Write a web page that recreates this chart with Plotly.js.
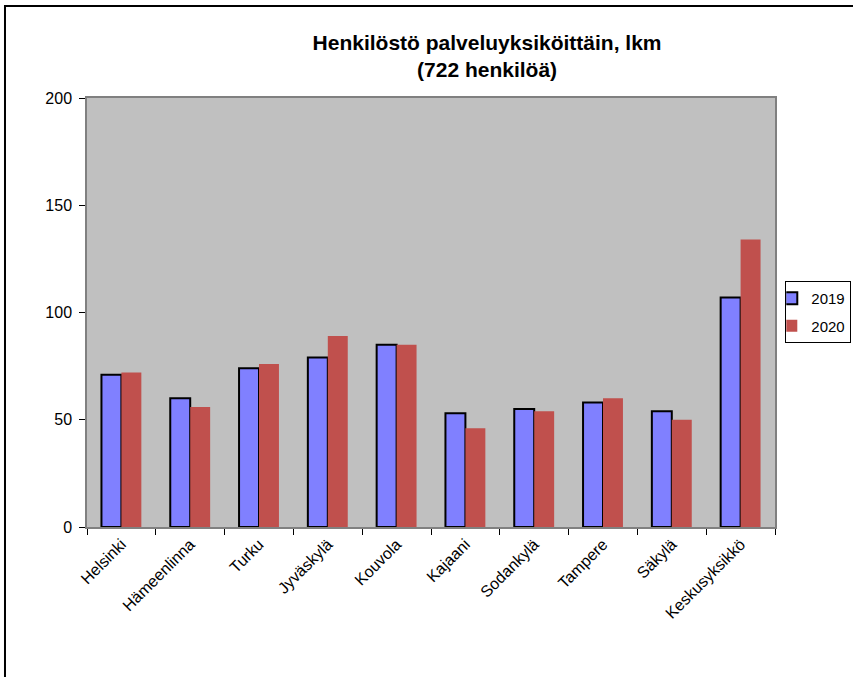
<!DOCTYPE html>
<html><head><meta charset="utf-8">
<script src="https://cdn.plot.ly/plotly-3.0.1.min.js"></script>
<style>body{margin:0;background:#fff}#c{width:853px;height:677px}</style>
</head><body><div id="c"></div>
<script>
const categories = ["Helsinki","Hämeenlinna","Turku","Jyväskylä","Kouvola","Kajaani","Sodankylä","Tampere","Säkylä","Keskusyksikkö"];
const values2019 = [71,60,74,79,85,53,55,58,54,107];
const values2020 = [72,56,76,89,85,46,54,60,50,134];
const yTicks = [0,50,100,150,200];

const traces = [
  {type:"bar", name:"2019", legendgroup:"a", x:categories, y:values2019,
   marker:{color:"#8080FF", line:{color:"#000", width:2}}},
  {type:"bar", name:"2020", legendgroup:"b", x:categories, y:values2020,
   marker:{color:"#C0504D", line:{width:0}}}
];
const layout = {
  width:853, height:677,
  margin:{l:87, r:78, t:98, b:150, autoexpand:false},
  paper_bgcolor:"#fff", plot_bgcolor:"#C0C0C0",
  font:{family:"Liberation Sans, Arial, sans-serif", color:"#000"},
  title:{text:"<b>Henkilöstö palveluyksiköittäin, lkm<br>(722 henkilöä)</b>",
         font:{size:21}, x:0.571, xanchor:"center", y:0.926, yanchor:"top"},
  barmode:"group", bargap:0.42, bargroupgap:0,
  showlegend:true,
  legend:{xref:"container", yref:"container", x:0.998, xanchor:"right", y:0.585, yanchor:"top",
          bordercolor:"#000", borderwidth:1, bgcolor:"#fff", indentation:-15,
          font:{size:15}, itemwidth:30, tracegroupgap:5},
  xaxis:{type:"category", showline:true, linecolor:"#808080", linewidth:1.5, mirror:true,
         ticks:"outside", tickson:"boundaries", ticklen:6, tickcolor:"#000",
         tickangle:-45, tickfont:{size:16}, showgrid:false, automargin:false},
  yaxis:{range:[0,200], tickvals:yTicks, showline:true, linecolor:"#808080", linewidth:1.5, mirror:true,
         ticks:"outside", ticklen:6, tickcolor:"#000", tickfont:{size:16}, showgrid:false,
         zeroline:false, ticklabelstandoff:4, automargin:false},
  shapes:[{type:"rect", xref:"paper", yref:"paper", x0:-0.1192, x1:1.2, y0:-0.36, y1:1.2145,
           line:{color:"#000", width:2}, fillcolor:"rgba(0,0,0,0)", layer:"above"}]
};
Plotly.newPlot("c", traces, layout, {displayModeBar:false});
</script></body></html>
